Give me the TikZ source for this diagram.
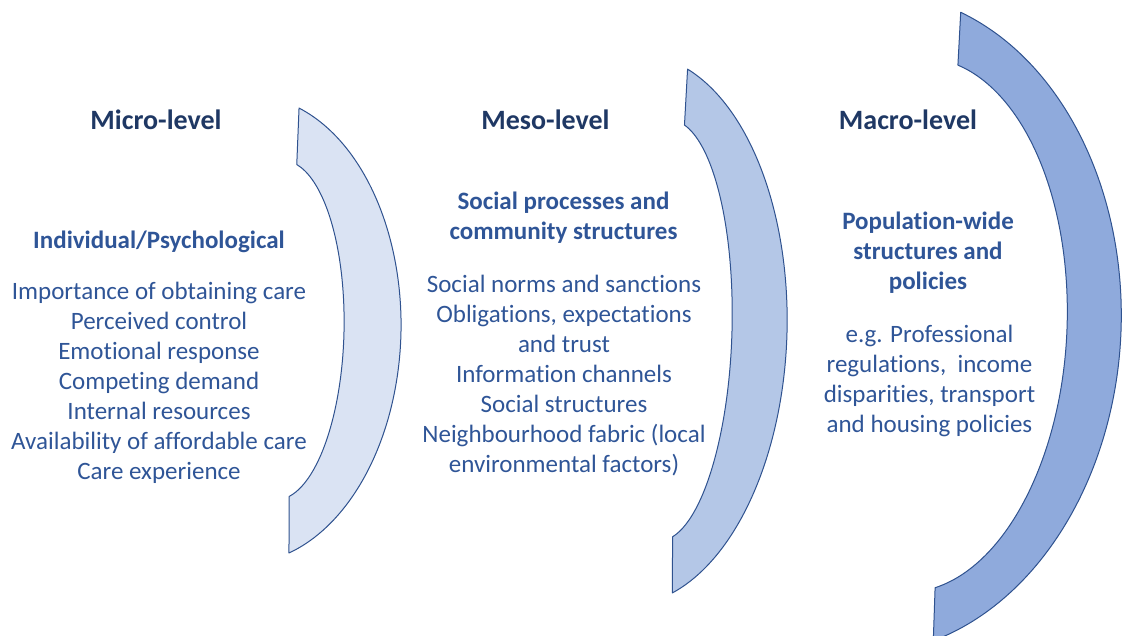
\documentclass[tikz,border=0pt]{standalone}
\usepackage{fontspec}
\setmainfont[Ligatures=NoCommon]{Carlito}
\usepackage{tikz}
\usepackage{xcolor}
\definecolor{levelnavy}{HTML}{1F3864}
\definecolor{leveltext}{HTML}{2F5597}
\definecolor{bandedge}{HTML}{2F528F}
\definecolor{microfill}{HTML}{DAE3F3}
\definecolor{mesofill}{HTML}{B4C7E7}
\definecolor{macrofill}{HTML}{8FAADC}
\tikzset{
  band/.style={draw=bandedge,line width=1pt,line join=round},
  microband/.style={band,fill=microfill},
  mesoband/.style={band,fill=mesofill},
  macroband/.style={band,fill=macrofill},
  levelhead/.style={font=\fontsize{28}{34}\selectfont\bfseries,text=levelnavy},
  levelsub/.style={font=\fontsize{25}{30}\selectfont\bfseries,text=leveltext,align=center},
  levelbody/.style={font=\fontsize{25}{30}\selectfont,text=leveltext,align=center},
}

\begin{document}
\begin{tikzpicture}[x=1pt,y=1pt]
\useasboundingbox (0,0) rectangle (1122,636);

% bands: outer edge downwards, cut, inner edge back up
\path[microband,rotate around={-1.3:(294,305.5)}]
  (294,528) arc[start angle=72,end angle=-72,x radius=154.8,y radius=234]
  -- (293,139.5) arc[start angle=-78,end angle=78,x radius=64.4,y radius=169.7] -- cycle;
\path[mesoband,rotate around={-1.66:(680,305)}]
  (680,567) arc[start angle=72,end angle=-72,x radius=154.8,y radius=275.5]
  -- (678.5,99) arc[start angle=-78,end angle=78,x radius=67.5,y radius=210.6] -- cycle;
\path[macroband,rotate around={-2.5:(947,309.5)}]
  (947,624) arc[start angle=72,end angle=-72,x radius=251.8,y radius=330.7]
  -- (946.5,48) arc[start angle=-78,end angle=78,x radius=152.1,y radius=267.4] -- cycle;

% micro
\node[levelhead] (microhead) at (156,516) {Micro-level};
\node[levelsub] (microsub) at (159,394.5) {Individual/Psychological};
\node[levelbody] (microbody) at (159,253.5) {Importance of obtaining care\\Perceived control\\
  Emotional response\\Competing demand\\Internal resources\\
  Availability of affordable care\\Care experience};

% meso
\node[levelhead] (mesohead) at (545.5,516) {Meso-level};
\node[levelsub] (mesosub) at (563.5,418) {Social processes and\\community structures};
\node[levelbody] (mesobody) at (564,260.5) {Social norms and sanctions\\Obligations, expectations\\
  and trust\\Information channels\\Social structures\\
  Neighbourhood fabric (local\\environmental factors)};

% macro
\node[levelhead] (macrohead) at (908,516) {Macro-level};
\node[levelsub] (macrosub) at (928,383.5) {Population-wide\\structures and\\policies};
\node[levelbody] (macrobody) at (929.5,255.5) {e.g. Professional\\regulations,~ income\\
  disparities, transport\\and housing policies};

\end{tikzpicture}
\end{document}
